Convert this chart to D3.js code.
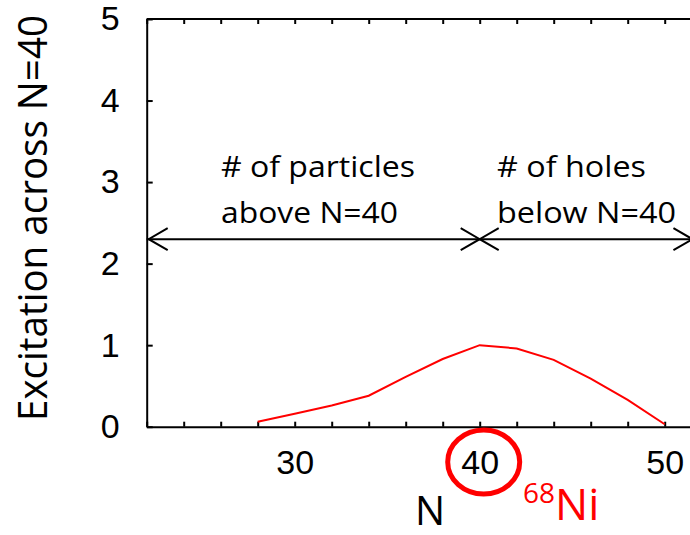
<!DOCTYPE html>
<html><head><meta charset="utf-8">
<script src="https://cdn.jsdelivr.net/npm/d3@7"></script>
<style>body{margin:0;background:#fff;overflow:hidden}</style>
</head><body><svg id="c" width="690" height="535"></svg>
<script>
const nValues = [28, 30, 32, 34, 36, 38, 40, 42, 44, 46, 48, 50];
const excitation = [0.06, 0.16, 0.26, 0.38, 0.61, 0.83, 1.0, 0.96, 0.82, 0.59, 0.33, 0.03];
const xLabelTicks = [30, 40, 50];
const yTicks = [0, 1, 2, 3, 4, 5];
const arrowLevel = 2.3;
const arrowStops = [22, 40, 51.5];
const leftText = ["# of particles", "above N=40"];
const rightText = ["# of holes", "below N=40"];

const svg = d3.select("#c");
const x = d3.scaleLinear().domain([22, 52]).range([146.7, 701.7]);
const y = d3.scaleLinear().domain([0, 5]).range([426.7, 19]);
const sans = "'Liberation Sans', Arial, sans-serif";
const hum = "'Open Sans', 'Noto Sans', sans-serif";

// frame lines
svg.append("line").attr("x1", x(22)).attr("x2", 690).attr("y1", y(5)).attr("y2", y(5))
  .attr("stroke", "#000").attr("stroke-width", 2);

const minor = d3.range(22, 53, 2);
const bAxis = d3.axisBottom(x).tickValues(minor).tickSizeInner(-5).tickSizeOuter(0)
  .tickFormat(d => xLabelTicks.includes(d) ? d : "");
const gb = svg.append("g").attr("transform", `translate(0,${y(0)})`).call(bAxis);
gb.select(".domain").attr("stroke-width", 2);
gb.selectAll(".tick line").attr("stroke-width", 2);
gb.selectAll("text").attr("font-family", sans).attr("font-size", 34).attr("fill", "#000").attr("dy", "1.3em");

const tAxis = d3.axisTop(x).tickValues(minor).tickSizeInner(-5).tickSizeOuter(0).tickFormat("");
const gt = svg.append("g").attr("transform", `translate(0,${y(5)})`).call(tAxis);
gt.select(".domain").remove();
gt.selectAll(".tick line").attr("stroke-width", 2);

const lAxis = d3.axisLeft(y).tickValues(yTicks).tickSizeInner(-6).tickSizeOuter(0).tickPadding(27)
  .tickFormat(d3.format("d"));
const gl = svg.append("g").attr("transform", `translate(${x(22)},0)`).call(lAxis);
gl.select(".domain").attr("stroke-width", 2);
gl.selectAll(".tick line").attr("stroke-width", 2);
gl.selectAll("text").attr("font-family", sans).attr("font-size", 34).attr("fill", "#000");

// data line
svg.append("path").datum(nValues.map((n, i) => [n, excitation[i]]))
  .attr("d", d3.line().x(d => x(d[0])).y(d => y(d[1])))
  .attr("fill", "none").attr("stroke", "#ff0000").attr("stroke-width", 2);

// arrows
const ay = y(arrowLevel);
svg.append("line").attr("x1", x(arrowStops[0])).attr("x2", x(arrowStops[2]))
  .attr("y1", ay).attr("y2", ay).attr("stroke", "#000").attr("stroke-width", 2);
function head(tx, dir) {
  svg.append("path")
    .attr("d", `M${tx + dir * 19},${ay - 11}L${tx},${ay}L${tx + dir * 19},${ay + 11}`)
    .attr("fill", "none").attr("stroke", "#000").attr("stroke-width", 2);
}
head(x(arrowStops[0]) + 2, 1);
head(x(arrowStops[1]), -1);
head(x(arrowStops[1]), 1);
head(x(arrowStops[2]), -1);

function lines(arr, x0, widths) {
  arr.forEach((t, i) => {
    svg.append("text").attr("x", x0).attr("y", 177 + i * 46)
      .attr("font-family", hum).attr("font-size", 29).attr("fill", "#000")
      .attr("textLength", widths[i]).attr("lengthAdjust", "spacingAndGlyphs").text(t);
  });
}
lines(leftText, 221, [194, 177]);
lines(rightText, 497, [149, 179]);

// y title
svg.append("text").attr("transform", "translate(47,218) rotate(-90)")
  .attr("text-anchor", "middle").attr("font-family", hum).attr("font-size", 40)
  .attr("textLength", 406).attr("lengthAdjust", "spacingAndGlyphs").text("Excitation across N=40");

// x title
svg.append("text").attr("x", 430).attr("y", 525).attr("text-anchor", "middle")
  .attr("font-family", hum).attr("font-size", 40).text("N");

// red circle & 68Ni
svg.append("ellipse").attr("cx", x(40) + 4).attr("cy", 462).attr("rx", 36).attr("ry", 32)
  .attr("fill", "none").attr("stroke", "#ff0000").attr("stroke-width", 5);
const ni = svg.append("text").attr("x", 523).attr("y", 520).attr("font-family", hum).attr("fill", "#ff0000");
ni.append("tspan").attr("font-size", 28).attr("dy", -17).text("68");
ni.append("tspan").attr("font-size", 44).attr("dy", 17).text("Ni");
</script></body></html>
